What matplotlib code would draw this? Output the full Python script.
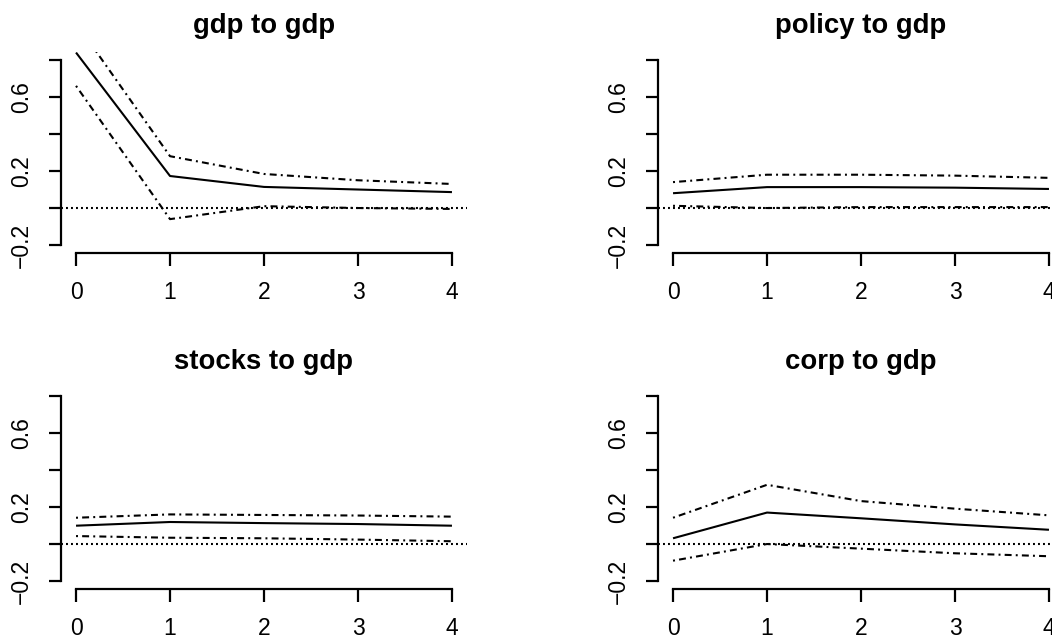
import matplotlib
matplotlib.use("Agg")
import matplotlib.pyplot as plt

plt.rcParams['font.family'] = ['Liberation Sans', 'DejaVu Sans']
plt.rcParams['lines.scale_dashes'] = False

# impulse responses, horizon 0..4
steps = [0, 1, 2, 3, 4]
titles = ["gdp to gdp", "policy to gdp", "stocks to gdp", "corp to gdp"]

gdp_irf = [0.84, 0.173, 0.114, 0.10, 0.086]
gdp_upper = [1.0, 0.28, 0.184, 0.15, 0.13]
gdp_lower = [0.66, -0.06, 0.01, 0.0, -0.005]

policy_irf = [0.08, 0.113, 0.113, 0.11, 0.103]
policy_upper = [0.14, 0.18, 0.18, 0.175, 0.163]
policy_lower = [0.012, 0.0, 0.005, 0.005, 0.005]

stocks_irf = [0.099, 0.119, 0.113, 0.108, 0.099]
stocks_upper = [0.142, 0.16, 0.157, 0.154, 0.148]
stocks_lower = [0.043, 0.034, 0.031, 0.024, 0.015]

corp_irf = [0.031, 0.17, 0.139, 0.106, 0.077]
corp_upper = [0.142, 0.32, 0.232, 0.191, 0.155]
corp_lower = [-0.09, 0.0, -0.025, -0.05, -0.066]

series = [
    (gdp_irf, gdp_upper, gdp_lower),
    (policy_irf, policy_upper, policy_lower),
    (stocks_irf, stocks_upper, stocks_lower),
    (corp_irf, corp_upper, corp_lower),
]

W, H = 1052, 641
# panel boxes in pixels: left, top
boxes = [(61, 52), (658, 52), (61, 388), (658, 388)]
pw, ph = 406, 201

fig = plt.figure(figsize=(W / 100, H / 100), dpi=100)

dotdash = (0, (1.4, 3.0, 5.0, 3.0))
dotted = (0, (1.4, 2.2))

for (left, top), title, (irf, up, lo) in zip(boxes, titles, series):
    ax = fig.add_axes([left / W, 1 - (top + ph) / H, pw / W, ph / H])
    ax.plot(steps, irf, color='black', lw=1.5, solid_capstyle='butt')
    ax.plot(steps, up, color='black', lw=1.5, linestyle=dotdash)
    ax.plot(steps, lo, color='black', lw=1.5, linestyle=dotdash)
    ax.axhline(0, color='black', lw=1.5, linestyle=dotted)

    ax.set_xlim(-0.16, 4.16)
    ax.set_ylim(-0.243, 0.843)
    ax.set_xticks(steps)
    ax.set_yticks([-0.2, 0.0, 0.2, 0.4, 0.6, 0.8])
    ax.set_yticklabels(["\u22120.2", "", "0.2", "", "0.6", ""])

    for s in ['top', 'right']:
        ax.spines[s].set_visible(False)
    ax.spines['left'].set_bounds(-0.2, 0.8)
    ax.spines['bottom'].set_bounds(0, 4)
    for s in ['left', 'bottom']:
        ax.spines[s].set_linewidth(1.6)

    ax.tick_params(length=9, width=1.6, labelsize=16.5, pad=11, direction='out')
    for lab in ax.get_yticklabels():
        lab.set_rotation(90)
        lab.set_va('center')

    ax.set_title(title, fontsize=19.8, fontweight='bold', pad=14)

fig.savefig("out.png", dpi=100)
